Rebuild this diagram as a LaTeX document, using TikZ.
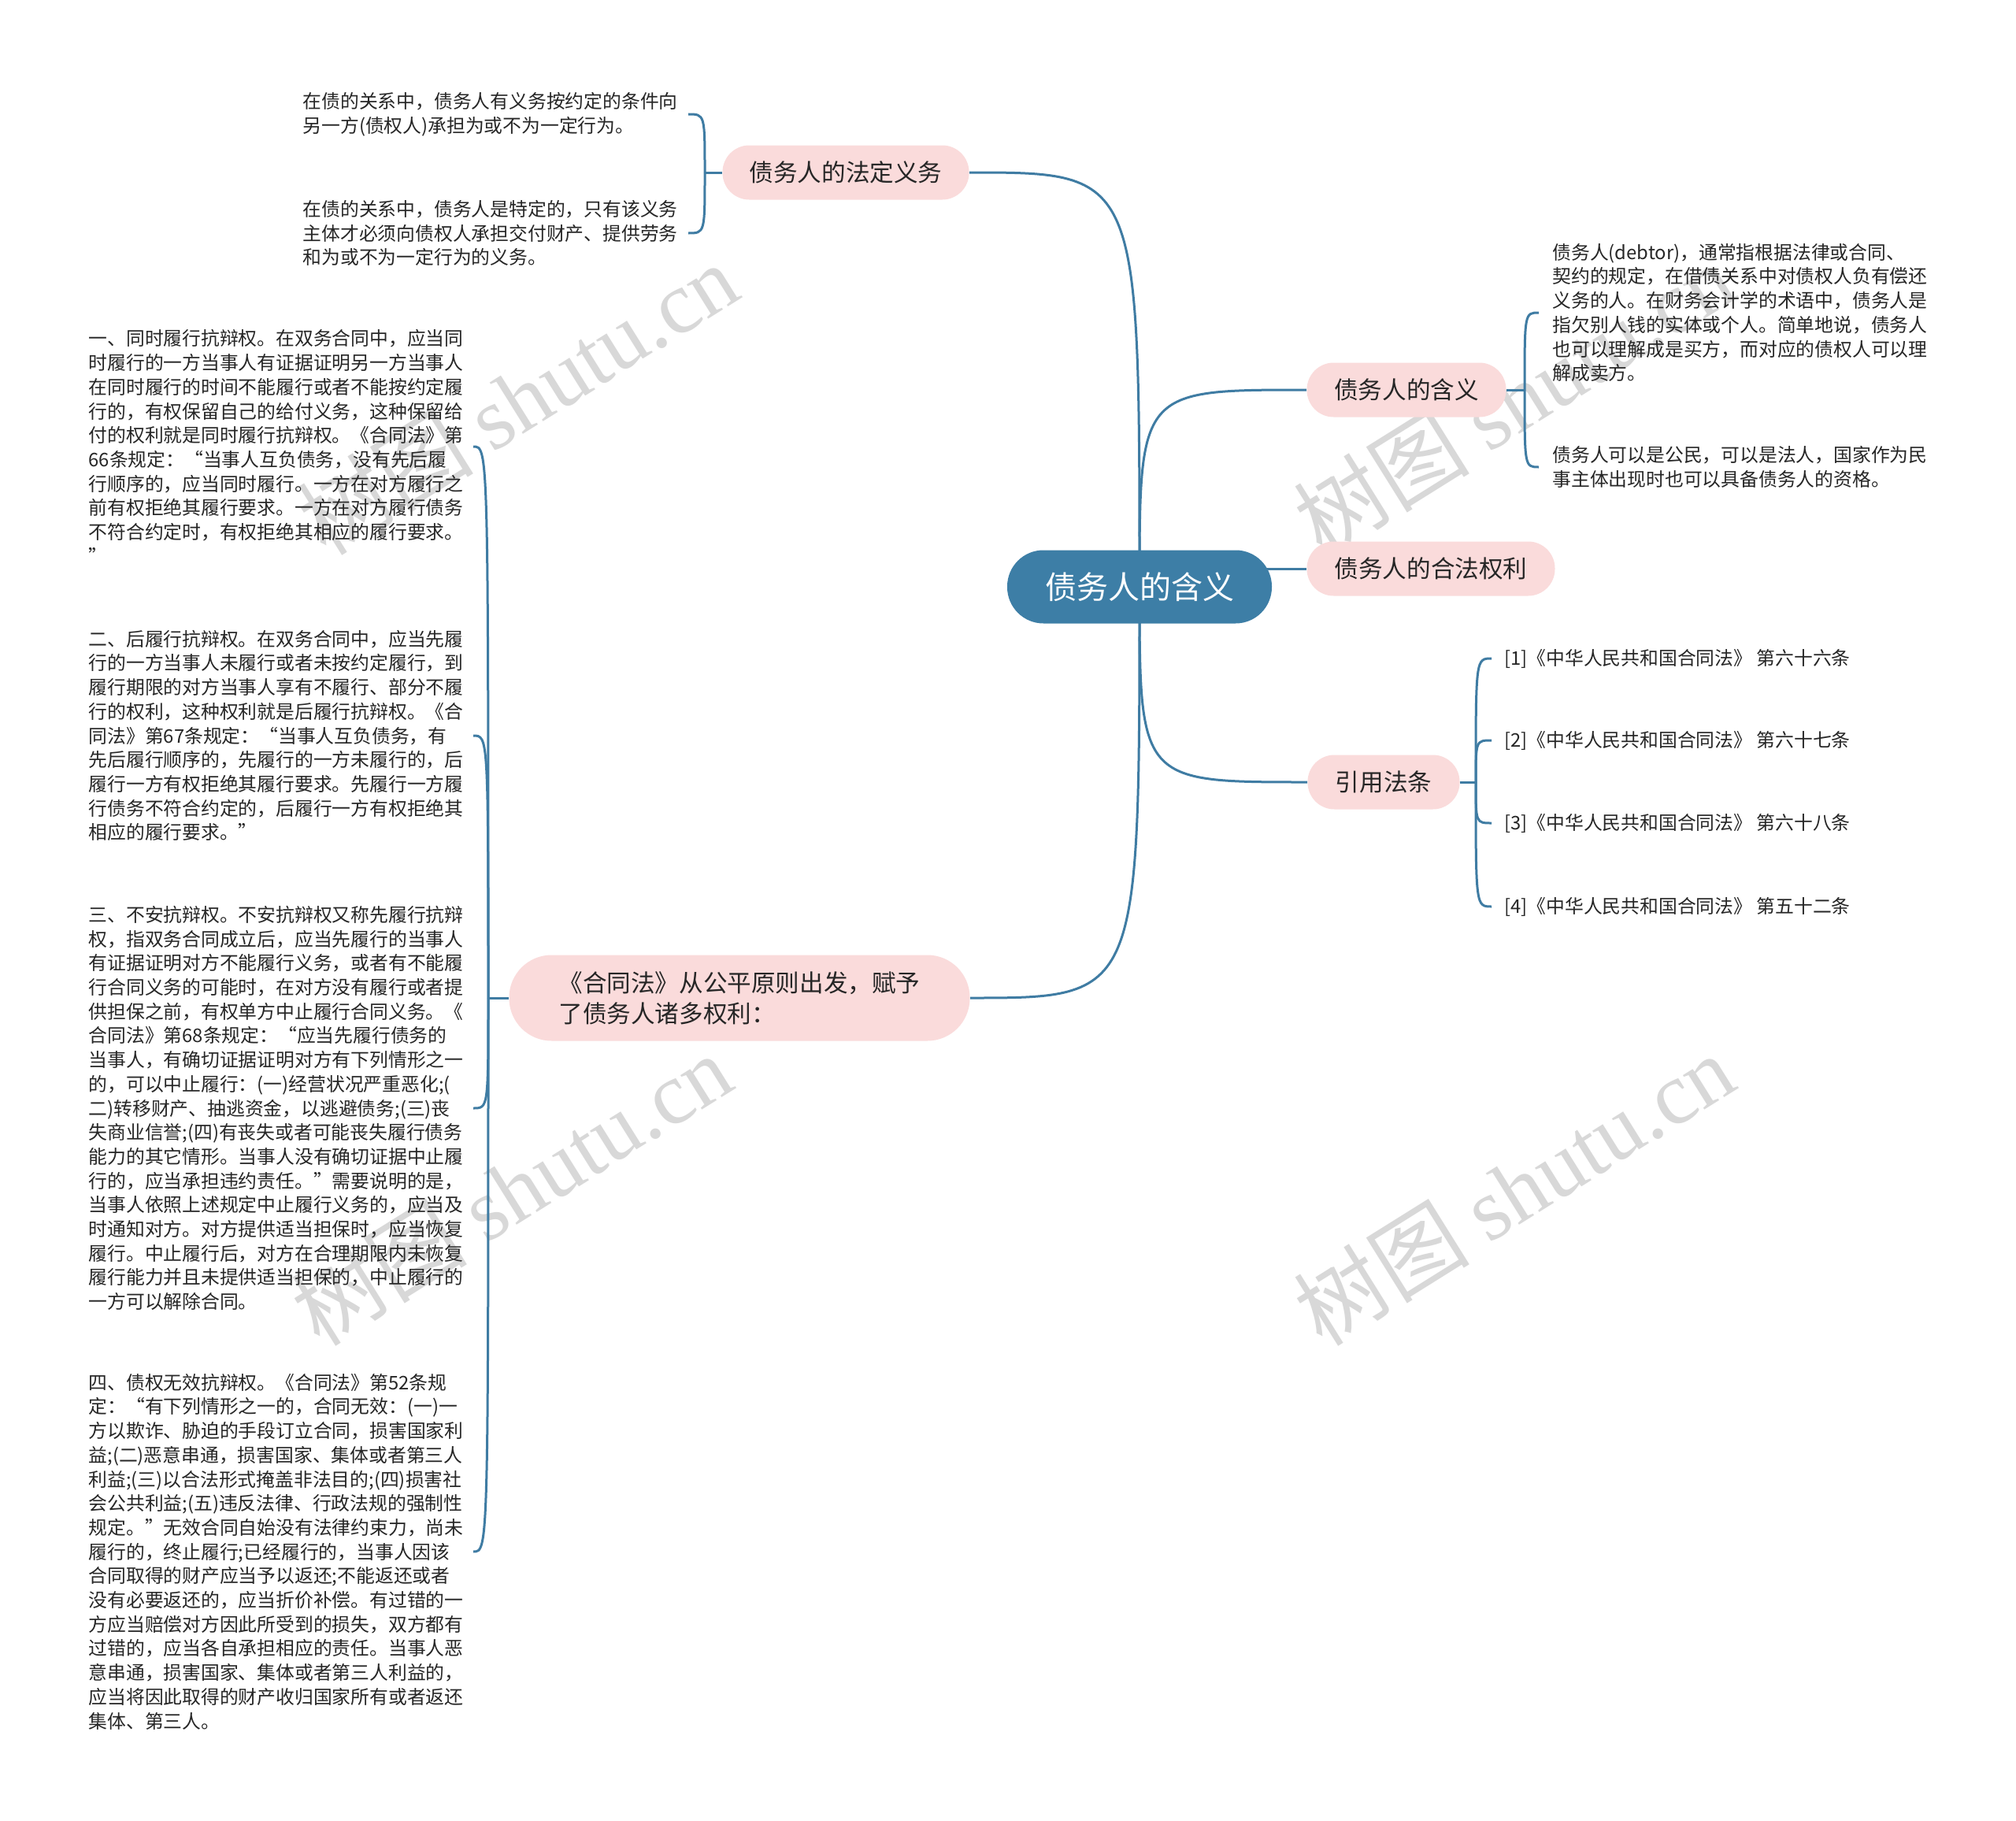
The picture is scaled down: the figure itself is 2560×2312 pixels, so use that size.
\documentclass[tikz,border=0pt]{standalone}
\usepackage{fontspec}
\setmainfont{Noto Sans CJK SC}
\newfontfamily\wmlatin{Liberation Serif}
\definecolor{mainblue}{HTML}{3D7EA6}
\definecolor{linkblue}{HTML}{3F7CA3}
\definecolor{pinkfill}{HTML}{FADBDB}
\definecolor{wmgray}{HTML}{D8D8D8}
\definecolor{txt}{HTML}{262626}
\pgfdeclarelayer{wm}
\pgfdeclarelayer{bg}
\pgfsetlayers{wm,bg,main}
\begin{document}
\begin{tikzpicture}[x=0.5pt,y=-0.5pt,
  root/.style={fill=mainblue, text=white, rounded corners=23pt, minimum width=168pt, minimum height=46.5pt, inner sep=0pt, font=\fontsize{20}{24}\selectfont},
  topic/.style={fill=pinkfill, text=txt, rounded corners=17pt, minimum height=34.5pt, inner sep=0pt, font=\fontsize{15.3}{19.5}\selectfont},
  leafr/.style={anchor=west, align=left, inner ysep=0pt, text=txt, font=\fontsize{11.9}{15.35}\selectfont},
  leafl/.style={anchor=east, align=left, inner ysep=0pt, text=txt, font=\fontsize{11.9}{15.35}\selectfont},
  link/.style={draw=linkblue, line width=1.5pt},
  wmark/.style={text=wmgray, rotate=32, inner sep=0pt, font=\fontsize{56}{56}\selectfont},
]
\useasboundingbox (0,0) rectangle (2560,2312);
\begin{pgfonlayer}{wm}
\fill[white] (0,0) rectangle (2560,2312);
\node[wmark] (w1) at (657,506) {树图 {\wmlatin shutu.cn}};
\node[wmark] (w2) at (1922,506) {树图 {\wmlatin shutu.cn}};
\node[wmark] (w3) at (649,1510) {树图 {\wmlatin shutu.cn}};
\node[wmark] (w4) at (1922,1510) {树图 {\wmlatin shutu.cn}};
\end{pgfonlayer}

% main nodes
\node[root] (root) at (1447,745) {债务人的含义};
\node[topic, minimum width=156.5pt] (tdef) at (1074,219) {债务人的法定义务};
\node[topic, minimum width=126.5pt] (tmean) at (1786,495) {债务人的含义};
\node[topic, minimum width=157.5pt] (tright) at (1817,722) {债务人的合法权利};
\node[topic, minimum width=96.5pt] (tcite) at (1757,993) {引用法条};
\node[topic, minimum width=292.5pt, minimum height=54.5pt, rounded corners=27pt, align=left] (tlaw) at (939,1267) {《合同法》从公平原则出发，赋予\\了债务人诸多权利：};

% leaves of tdef
\node[leafl, inner xsep=6.5pt] (d1) at (874,145) {在债的关系中，债务人有义务按约定的条件向\\另一方(债权人)承担为或不为一定行为。};
\node[leafl, inner xsep=6.5pt] (d2) at (874,296) {在债的关系中，债务人是特定的，只有该义务\\主体才必须向债权人承担交付财产、提供劳务\\和为或不为一定行为的义务。};

% leaves of tmean
\node[leafr, inner xsep=8.5pt] (m1) at (1954,397) {债务人(debtor)，通常指根据法律或合同、\\契约的规定，在借债关系中对债权人负有偿还\\义务的人。在财务会计学的术语中，债务人是\\指欠别人钱的实体或个人。简单地说，债务人\\也可以理解成是买方，而对应的债权人可以理\\解成卖方。};
\node[leafr, inner xsep=8.5pt] (m2) at (1954,593) {债务人可以是公民，可以是法人，国家作为民\\事主体出现时也可以具备债务人的资格。};

% leaves of tcite
\node[leafr, inner xsep=8pt] (c1) at (1894,836) {[1]《中华人民共和国合同法》 第六十六条};
\node[leafr, inner xsep=8pt] (c2) at (1894,940) {[2]《中华人民共和国合同法》 第六十七条};
\node[leafr, inner xsep=8pt] (c3) at (1894,1045) {[3]《中华人民共和国合同法》 第六十八条};
\node[leafr, inner xsep=8pt] (c4) at (1894,1151) {[4]《中华人民共和国合同法》 第五十二条};

% leaves of tlaw
\node[leafl, inner xsep=6pt] (a1) at (601,567) {一、同时履行抗辩权。在双务合同中，应当同\\时履行的一方当事人有证据证明另一方当事人\\在同时履行的时间不能履行或者不能按约定履\\行的，有权保留自己的给付义务，这种保留给\\付的权利就是同时履行抗辩权。《合同法》第\\66条规定：“当事人互负债务，没有先后履\\行顺序的，应当同时履行。一方在对方履行之\\前有权拒绝其履行要求。一方在对方履行债务\\不符合约定时，有权拒绝其相应的履行要求。\\”};
\node[leafl, inner xsep=6pt] (a2) at (601,934) {二、后履行抗辩权。在双务合同中，应当先履\\行的一方当事人未履行或者未按约定履行，到\\履行期限的对方当事人享有不履行、部分不履\\行的权利，这种权利就是后履行抗辩权。《合\\同法》第67条规定：“当事人互负债务，有\\先后履行顺序的，先履行的一方未履行的，后\\履行一方有权拒绝其履行要求。先履行一方履\\行债务不符合约定的，后履行一方有权拒绝其\\相应的履行要求。”};
\node[leafl, inner xsep=6pt] (a3) at (601,1407) {三、不安抗辩权。不安抗辩权又称先履行抗辩\\权，指双务合同成立后，应当先履行的当事人\\有证据证明对方不能履行义务，或者有不能履\\行合同义务的可能时，在对方没有履行或者提\\供担保之前，有权单方中止履行合同义务。《\\合同法》第68条规定：“应当先履行债务的\\当事人，有确切证据证明对方有下列情形之一\\的，可以中止履行：(一)经营状况严重恶化;(\\二)转移财产、抽逃资金，以逃避债务;(三)丧\\失商业信誉;(四)有丧失或者可能丧失履行债务\\能力的其它情形。当事人没有确切证据中止履\\行的，应当承担违约责任。”需要说明的是，\\当事人依照上述规定中止履行义务的，应当及\\时通知对方。对方提供适当担保时，应当恢复\\履行。中止履行后，对方在合理期限内未恢复\\履行能力并且未提供适当担保的，中止履行的\\一方可以解除合同。};
\node[leafl, inner xsep=6pt] (a4) at (601,1970) {四、债权无效抗辩权。《合同法》第52条规\\定：“有下列情形之一的，合同无效：(一)一\\方以欺诈、胁迫的手段订立合同，损害国家利\\益;(二)恶意串通，损害国家、集体或者第三人\\利益;(三)以合法形式掩盖非法目的;(四)损害社\\会公共利益;(五)违反法律、行政法规的强制性\\规定。”无效合同自始没有法律约束力，尚未\\履行的，终止履行;已经履行的，当事人因该\\合同取得的财产应当予以返还;不能返还或者\\没有必要返还的，应当折价补偿。有过错的一\\方应当赔偿对方因此所受到的损失，双方都有\\过错的，应当各自承担相应的责任。当事人恶\\意串通，损害国家、集体或者第三人利益的，\\应当将因此取得的财产收归国家所有或者返还\\集体、第三人。};

% junctions
\coordinate (jdef) at (895,219);
\coordinate (jmean) at (1936,495);
\coordinate (jcite) at (1874,993);
\coordinate (jlaw) at (620,1267);

\begin{pgfonlayer}{bg}
% root connectors
\draw[link] (root.center) .. controls (root.center |- tdef.east) .. (tdef.east);
\draw[link] (root.center) .. controls (root.center |- tmean.west) .. (tmean.west);
\draw[link] (root.center |- tright.west) -- (tright.west);
\draw[link] (root.center) .. controls (root.center |- tcite.west) .. (tcite.west);
\draw[link] (root.center) .. controls (root.center |- tlaw.east) .. (tlaw.east);
% brackets
\draw[link] (tdef.west) -- (jdef);
\draw[link] (jdef) .. controls (jdef |- d1.east) .. (d1.east);
\draw[link] (jdef) .. controls (jdef |- d2.east) .. (d2.east);
\draw[link] (tmean.east) -- (jmean);
\draw[link] (jmean) .. controls (jmean |- m1.west) .. (m1.west);
\draw[link] (jmean) .. controls (jmean |- m2.west) .. (m2.west);
\draw[link] (tcite.east) -- (jcite);
\draw[link] (jcite) .. controls (jcite |- c1.west) .. (c1.west);
\draw[link] (jcite) .. controls (jcite |- c2.west) .. (c2.west);
\draw[link] (jcite) .. controls (jcite |- c3.west) .. (c3.west);
\draw[link] (jcite) .. controls (jcite |- c4.west) .. (c4.west);
\draw[link] (tlaw.west) -- (jlaw);
\draw[link] (jlaw) .. controls (jlaw |- a1.east) .. (a1.east);
\draw[link] (jlaw) .. controls (jlaw |- a2.east) .. (a2.east);
\draw[link] (jlaw) .. controls (jlaw |- a3.east) .. (a3.east);
\draw[link] (jlaw) .. controls (jlaw |- a4.east) .. (a4.east);
\end{pgfonlayer}
\end{tikzpicture}
\end{document}
